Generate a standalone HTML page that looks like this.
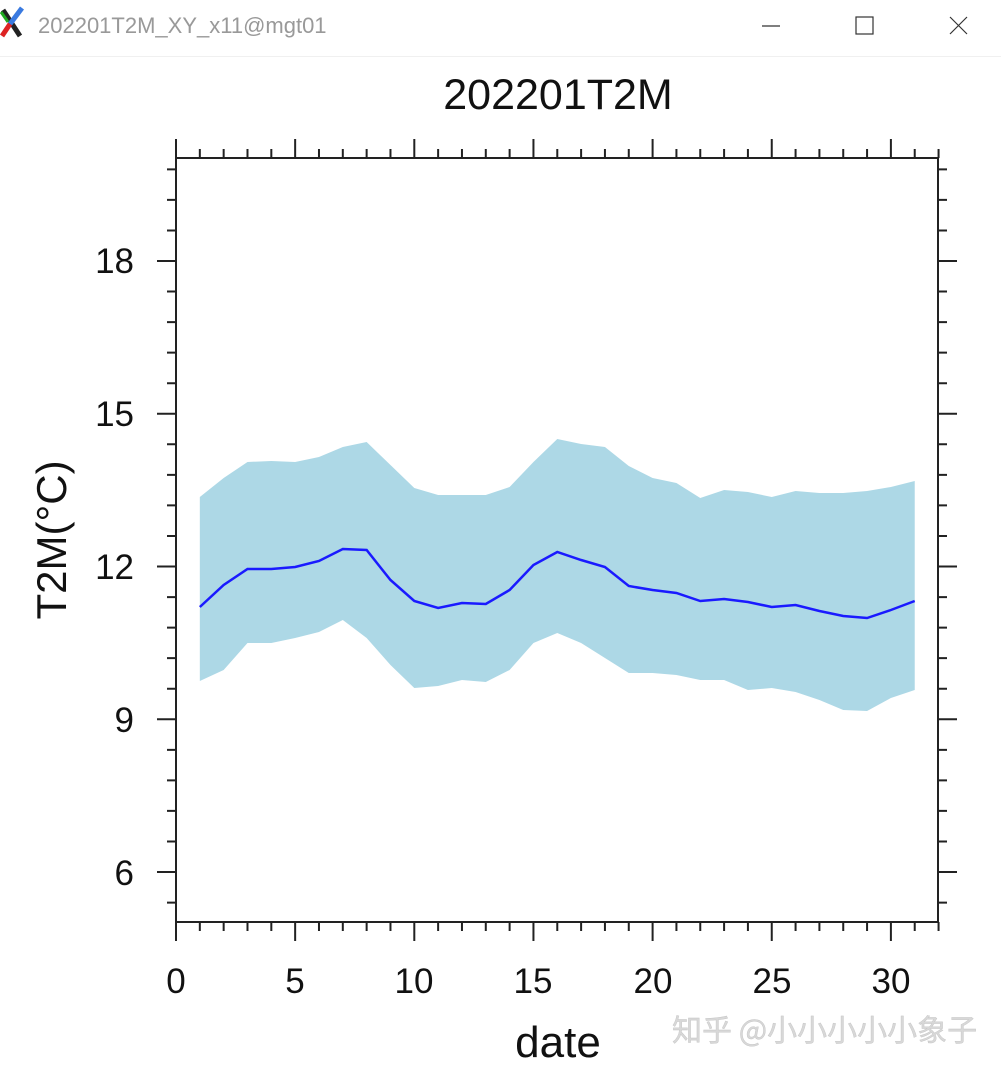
<!DOCTYPE html>
<html><head><meta charset="utf-8"><style>
html,body{margin:0;padding:0;background:#fff;width:1001px;height:1070px;overflow:hidden}
svg{display:block}
</style></head><body>
<svg id="s" width="1001" height="1070" xmlns="http://www.w3.org/2000/svg" font-family="Liberation Sans, Arial, sans-serif">
<rect width="1001" height="1070" fill="#fff"/>
<line x1="0" y1="56.5" x2="1001" y2="56.5" stroke="#f0f0f0"/>
<path d="M3 10 L20 36" stroke="#222" stroke-width="5"/>
<path d="M22 8 L10 24" stroke="#3a7ae0" stroke-width="5"/>
<path d="M10 24 L2 36" stroke="#d22" stroke-width="5"/>
<path d="M1 12 L8 22" stroke="#2a2" stroke-width="3"/>
<text x="38" y="33" font-size="22" fill="#999" font-family="Liberation Sans, 'Noto Sans CJK SC', sans-serif">202201T2M_XY_x11@mgt01</text>
<line x1="762" y1="26" x2="780" y2="26" stroke="#333" stroke-width="1.2"/>
<rect x="856" y="17" width="17" height="17" fill="none" stroke="#333" stroke-width="1.2"/>
<path d="M950 17 L967 34 M967 17 L950 34" stroke="#333" stroke-width="1.2"/>
<text x="558" y="109" font-size="43" text-anchor="middle" fill="#111">202201T2M</text>
<g id="plot"></g>
<rect x="176" y="158" width="762" height="764" fill="none" stroke="#222" stroke-width="2"/>
<g font-size="35" fill="#111" text-anchor="end">
<text x="134" y="273">18</text><text x="134" y="426">15</text><text x="134" y="579">12</text><text x="134" y="732">9</text><text x="134" y="885">6</text>
</g>
<g font-size="35" fill="#111" text-anchor="middle">
<text x="176" y="993">0</text><text x="295" y="993">5</text><text x="414" y="993">10</text><text x="533" y="993">15</text><text x="653" y="993">20</text><text x="772" y="993">25</text><text x="891" y="993">30</text>
</g>
<text x="558" y="1057" font-size="44" text-anchor="middle" fill="#111">date</text>
<text transform="translate(66,540) rotate(-90)" font-size="42" text-anchor="middle" fill="#111">T2M(°C)</text>
<text x="672" y="1041" font-size="30" fill="#d8d8d8" stroke="#c4c4c4" stroke-width="0.4" font-family="'Noto Sans CJK SC', sans-serif">知乎 @小小小小小象子</text>
</svg>
<script>
var mean=[607,585,569,569,567,561,549,550,580,601,608,603,604,590,565,552,560,567,586,590,593,601,599,602,607,605,611,616,618,610,601];
var up=[497,478,462,461,462,457,447,442,465,488,495,495,495,487,462,439,444,447,466,478,483,498,490,492,497,491,493,493,491,487,481];
var lo=[681,670,643,643,638,632,620,638,665,688,686,680,682,670,643,633,643,658,673,673,675,680,680,690,688,692,700,710,711,698,690];
function X(d){return 176+d*23.83;}
var ns="http://www.w3.org/2000/svg",g=document.getElementById('plot');
function el(t,a){var e=document.createElementNS(ns,t);for(var k in a)e.setAttribute(k,a[k]);g.appendChild(e);return e;}
var p=[];for(var i=0;i<31;i++)p.push(X(i+1)+','+up[i]);for(var i=30;i>=0;i--)p.push(X(i+1)+','+lo[i]);
el('polygon',{points:p.join(' '),fill:'#add8e6'});
var m=[];for(var i=0;i<31;i++)m.push(X(i+1)+','+mean[i]);
el('polyline',{points:m.join(' '),fill:'none',stroke:'#1a1aff','stroke-width':2.5});
var d='';
for(var v=0;v<=32;v++){var x=X(v),L=(v%5==0)?19:9;d+='M'+x+' 922v'+L+'M'+x+' 158v'+(-L);}
function Y(v){return 261+(18-v)*50.92;}
for(var k=-2;k<=25;k++){var v=6+k*0.6;if(v<4.99||v>20.01)continue;var y=Y(v);var maj=(k%5==0);var L=maj?19:9;d+='M176 '+y+'h'+(-L)+'M938 '+y+'h'+L;}
el('path',{d:d,stroke:'#222','stroke-width':2,fill:'none'});
</script>
</body></html>
